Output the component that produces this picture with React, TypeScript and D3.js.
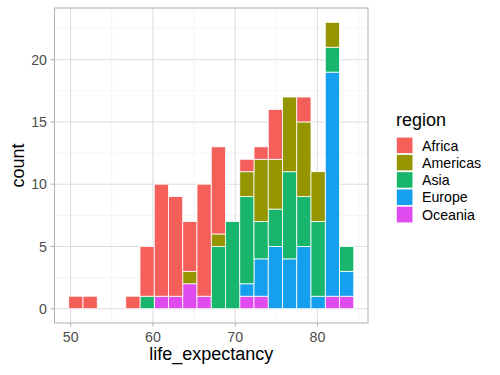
import React from "react";
import * as d3 from "d3";

// Histogram bins (20 bins), stacked counts per region
const binStart = 49.77;
const binWidth = 1.732;
const regions = ["Africa", "Americas", "Asia", "Europe", "Oceania"];
const colors = ["#F45F5A", "#959500", "#18B56C", "#149FEF", "#DF4BEF"];
const africa   = [1, 1, 0, 0, 1, 4, 9, 8, 4, 9, 7, 0, 1, 1, 4, 0, 2, 0, 0, 0];
const americas = [0, 0, 0, 0, 0, 0, 0, 0, 1, 0, 1, 0, 2, 5, 4, 6, 6, 4, 2, 0];
const asia     = [0, 0, 0, 0, 0, 1, 0, 0, 0, 0, 5, 7, 7, 3, 3, 7, 4, 6, 2, 2];
const europe   = [0, 0, 0, 0, 0, 0, 0, 0, 0, 0, 0, 0, 1, 3, 5, 4, 5, 1, 18, 2];
const oceania  = [0, 0, 0, 0, 0, 0, 1, 1, 2, 1, 0, 0, 1, 1, 0, 0, 0, 0, 1, 1];
const xTicks = [50, 60, 70, 80];
const yTicks = [0, 5, 10, 15, 20];
const xMinor = [55, 65, 75, 85];
const yMinor = [2.5, 7.5, 12.5, 17.5, 22.5];

const W = 500, H = 375;
const L = 54.5, R = 368, T = 8, B = 323;
const FONT = "'Liberation Sans', Arial, Helvetica, sans-serif";

export default function App() {
  const series = [africa, americas, asia, europe, oceania];
  const nb = africa.length;
  const xLo = binStart, xHi = binStart + nb * binWidth;
  const xPad = (xHi - xLo) * 0.05;
  const totals = d3.range(nb).map(i => series.reduce((s, a) => s + a[i], 0));
  const yMax = d3.max(totals) as number;
  const x = d3.scaleLinear().domain([xLo - xPad, xHi + xPad]).range([L, R]);
  const y = d3.scaleLinear().domain([-yMax * 0.05, yMax * 1.05]).range([B, T]);

  const rows = d3.range(nb).map(i => {
    const r: any = { i };
    regions.forEach((reg, k) => (r[reg] = series[k][i]));
    return r;
  });
  // ggplot stacks first level on top: bottom is Oceania
  const stackOrder = [...regions].reverse();
  const stacked = d3.stack().keys(stackOrder)(rows as any);

  return (
    <svg width={W} height={H} style={{ position: "absolute", left: 0, top: 0, background: "white" }} fontFamily={FONT}>
      <rect x={0} y={0} width={W} height={H} fill="white" />
      {/* minor grid */}
      {xMinor.map(v => (
        <line key={"xm" + v} x1={x(v)} x2={x(v)} y1={T} y2={B} stroke="#EBEBEB" strokeWidth={0.55} />
      ))}
      {yMinor.map(v => (
        <line key={"ym" + v} x1={L} x2={R} y1={y(v)} y2={y(v)} stroke="#EBEBEB" strokeWidth={0.55} />
      ))}
      {/* major grid */}
      {xTicks.map(v => (
        <line key={"xg" + v} x1={x(v)} x2={x(v)} y1={T} y2={B} stroke="#DEDEDE" strokeWidth={1.07} />
      ))}
      {yTicks.map(v => (
        <line key={"yg" + v} x1={L} x2={R} y1={y(v)} y2={y(v)} stroke="#DEDEDE" strokeWidth={1.07} />
      ))}
      {/* bars */}
      {stacked.map(layer => {
        const ci = regions.indexOf(layer.key);
        return layer.map((d, i) =>
          d[1] - d[0] > 0 ? (
            <rect
              key={layer.key + i}
              x={x(binStart + i * binWidth)}
              width={x(binStart + (i + 1) * binWidth) - x(binStart + i * binWidth)}
              y={y(d[1])}
              height={y(d[0]) - y(d[1])}
              fill={colors[ci]}
              stroke="white"
              strokeWidth={0.8}
            />
          ) : null
        );
      })}
      {/* panel border */}
      <rect x={L} y={T} width={R - L} height={B - T} fill="none" stroke="#B3B3B3" strokeWidth={1.07} />
      {/* ticks */}
      {xTicks.map(v => (
        <g key={"xt" + v}>
          <line x1={x(v)} x2={x(v)} y1={B} y2={B + 3.7} stroke="#B3B3B3" strokeWidth={1.07} />
          <text x={x(v)} y={341.5} textAnchor="middle" fontSize={14.2} fill="#4D4D4D">{v}</text>
        </g>
      ))}
      {yTicks.map(v => (
        <g key={"yt" + v}>
          <line x1={L - 3.7} x2={L} y1={y(v)} y2={y(v)} stroke="#B3B3B3" strokeWidth={1.07} />
          <text x={47} y={y(v)} dy="0.36em" textAnchor="end" fontSize={14.2} fill="#4D4D4D">{v}</text>
        </g>
      ))}
      {/* axis titles */}
      <text x={(L + R) / 2} y={360} textAnchor="middle" fontSize={18} fill="black">life_expectancy</text>
      <text transform={`translate(24, ${(T + B) / 2}) rotate(-90)`} textAnchor="middle" fontSize={18} fill="black">count</text>
      {/* legend */}
      <text x={396} y={126} fontSize={18} fill="black">region</text>
      {regions.map((reg, k) => (
        <g key={reg}>
          <rect x={396} y={136.8 + k * 17.28} width={17.28} height={17.28} fill={colors[k]} stroke="white" strokeWidth={1.6} />
          <text x={422} y={136.8 + k * 17.28 + 8.64} dy="0.36em" fontSize={14.2} fill="black">{reg}</text>
        </g>
      ))}
    </svg>
  );
}
